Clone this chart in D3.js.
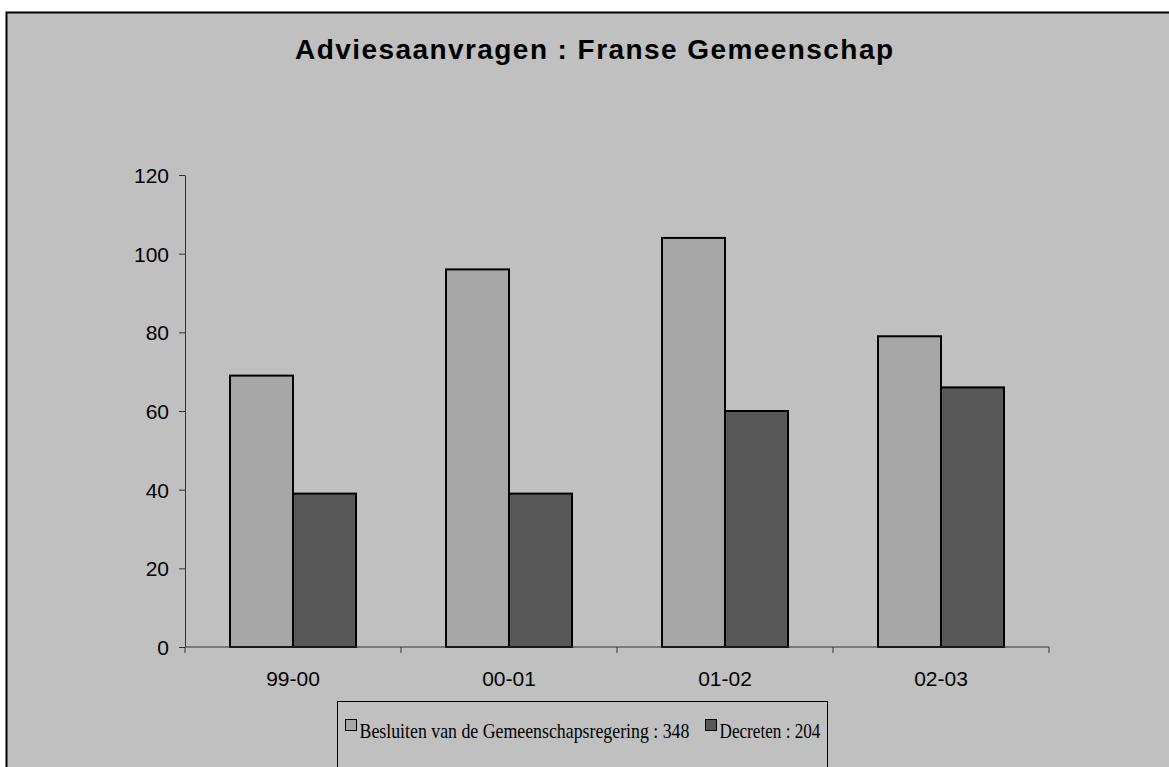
<!DOCTYPE html>
<html>
<head>
<meta charset="utf-8">
<script src="https://cdn.jsdelivr.net/npm/d3@7"></script>
<style>
  body { margin: 0; background: #fff; }
  svg { display: block; }
</style>
</head>
<body>
<div id="chart"></div>
<script>
const categories = ['99-00', '00-01', '01-02', '02-03']
const besluiten = [69, 96, 104, 79]
const decreten = [39, 39, 60, 66]
const yTicks = [0, 20, 40, 60, 80, 100, 120]
const seriesNames = [
  'Besluiten van de Gemeenschapsregering : 348',
  'Decreten : 204'
]
const seriesColors = ['#a6a6a6', '#585858']

const W = 1169
const H = 767

const margin = { top: 175, right: 120, bottom: 120, left: 185 }
const width = 1049 - margin.left
const height = 647 - margin.top

const svg = d3
  .select('#chart')
  .append('svg')
  .attr('width', W)
  .attr('height', H)

// chart area frame
svg
  .append('rect')
  .attr('x', 6.5)
  .attr('y', 12.5)
  .attr('width', W + 20)
  .attr('height', H + 20)
  .attr('fill', '#c0c0c0')
  .attr('stroke', '#000')
  .attr('stroke-width', 2)

svg
  .append('text')
  .attr('x', 594)
  .attr('y', 59)
  .attr('text-anchor', 'middle')
  .attr('font-family', 'Liberation Sans, Arial, sans-serif')
  .attr('font-weight', 'bold')
  .attr('font-size', 28)
  .attr('textLength', 598)
  .attr('lengthAdjust', 'spacing')
  .attr('fill', '#000')
  .text('Adviesaanvragen : Franse Gemeenschap')

const g = svg
  .append('g')
  .attr('transform', `translate(${margin.left}, ${margin.top})`)

const p = 90 / 216
const xPositionScale = d3
  .scaleBand()
  .domain(categories)
  .range([0, width])
  .paddingInner(p)
  .paddingOuter(p / 2)

const subScale = d3
  .scaleBand()
  .domain([0, 1])
  .range([0, xPositionScale.bandwidth()])

const yPositionScale = d3
  .scaleLinear()
  .domain([0, 120])
  .range([height, 0])

const rows = categories.map((c, i) => ({
  cat: c,
  values: [besluiten[i], decreten[i]]
}))

// bars
const groups = g
  .selectAll('.grp')
  .data(rows)
  .enter()
  .append('g')
  .attr('class', 'grp')
  .attr('transform', d => `translate(${xPositionScale(d.cat)}, 0)`)

groups
  .selectAll('rect')
  .data(d => d.values.map((v, k) => ({ v, k })))
  .enter()
  .append('rect')
  .attr('x', d => subScale(d.k))
  .attr('y', d => yPositionScale(d.v))
  .attr('width', subScale.bandwidth())
  .attr('height', d => height - yPositionScale(d.v))
  .attr('fill', d => seriesColors[d.k])
  .attr('stroke', '#000')
  .attr('stroke-width', 2)

// y axis
const yAxis = d3
  .axisLeft(yPositionScale)
  .tickValues(yTicks)
  .tickSize(6)
  .tickPadding(10)
  .tickSizeOuter(0)

const ya = g
  .append('g')
  .attr('class', 'axis y-axis')
  .call(yAxis)

ya.select('.domain').attr('stroke', '#333')
ya.selectAll('.tick line').attr('stroke', '#333')
ya
  .selectAll('.tick text')
  .attr('font-family', 'Liberation Sans, Arial, sans-serif')
  .attr('font-size', 21)
  .attr('fill', '#000')
  .attr('dy', '0.36em')

// x axis: line with ticks at category boundaries
const xa = g
  .append('g')
  .attr('class', 'axis x-axis')
  .attr('transform', `translate(0, ${height})`)

xa
  .append('line')
  .attr('x1', 0)
  .attr('x2', width)
  .attr('stroke', '#333')

const bounds = d3.range(categories.length + 1).map(i => i * xPositionScale.step())

xa
  .selectAll('.xtick')
  .data(bounds)
  .enter()
  .append('line')
  .attr('class', 'xtick')
  .attr('x1', d => d)
  .attr('x2', d => d)
  .attr('y1', 0)
  .attr('y2', 6)
  .attr('stroke', '#333')

xa
  .selectAll('.xlabel')
  .data(categories)
  .enter()
  .append('text')
  .attr('class', 'xlabel')
  .attr('x', d => xPositionScale(d) + xPositionScale.bandwidth() / 2)
  .attr('y', 39)
  .attr('text-anchor', 'middle')
  .attr('font-family', 'Liberation Sans, Arial, sans-serif')
  .attr('font-size', 21)
  .attr('fill', '#000')
  .text(d => d)

// legend
const legend = svg.append('g').attr('transform', 'translate(337.5, 701.5)')

legend
  .append('rect')
  .attr('width', 490)
  .attr('height', 100)
  .attr('fill', 'none')
  .attr('stroke', '#000')
  .attr('stroke-width', 1)

const legendItems = [
  { x: 8, tx: 22, len: 330 },
  { x: 368, tx: 382, len: 101 }
]

legend
  .selectAll('.sw')
  .data(legendItems)
  .enter()
  .append('rect')
  .attr('class', 'sw')
  .attr('x', d => d.x)
  .attr('y', 18)
  .attr('width', 11)
  .attr('height', 11)
  .attr('fill', (d, i) => seriesColors[i])
  .attr('stroke', '#000')
  .attr('stroke-width', 1)

// squeeze the serif text horizontally to match the narrow legend font
legend
  .selectAll('.lt')
  .data(legendItems)
  .enter()
  .append('g')
  .attr('class', 'lt')
  .attr('transform', d => `translate(${d.tx}, 36.5)`)
  .append('text')
  .attr('font-family', 'Liberation Serif, Times New Roman, serif')
  .attr('font-size', 21)
  .attr('fill', '#000')
  .text((d, i) => seriesNames[i])
  .each(function (d) {
    const natural = this.getComputedTextLength()
    d3.select(this).attr('transform', `scale(${d.len / natural}, 1)`)
  })
</script>
</body>
</html>
